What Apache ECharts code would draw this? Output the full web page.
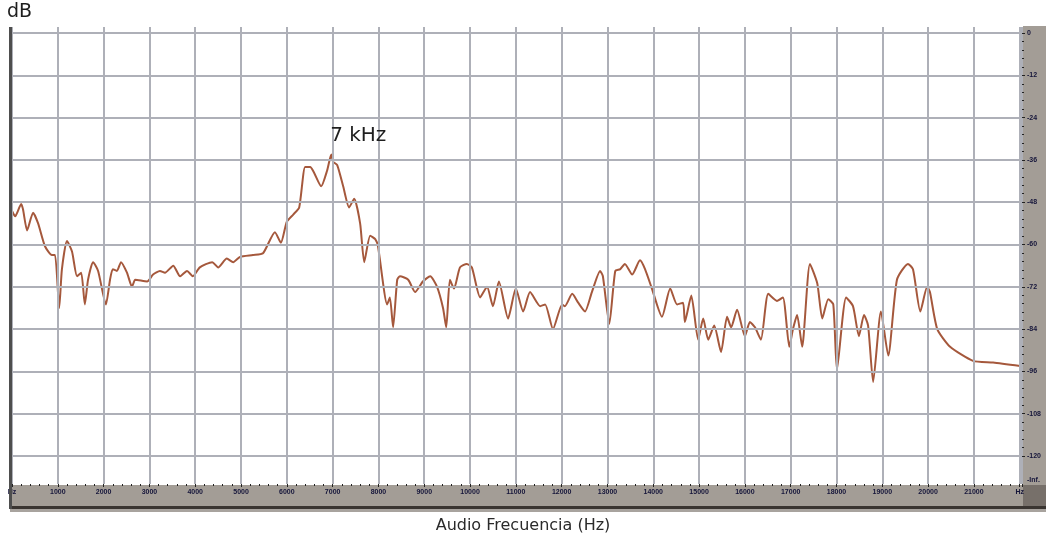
<!DOCTYPE html>
<html>
<head>
<meta charset="utf-8">
<script src="https://cdn.jsdelivr.net/npm/echarts@6/dist/echarts.min.js"></script>
<style>
html,body{margin:0;padding:0;background:#ffffff;}
#chart{width:1046px;height:548px;}
</style>
</head>
<body>
<div id="chart"></div>
<script>
const freqHz = [0,70,200,240,330,460,570,720,870,940,1030,1090,1200,1310,1420,1510,1590,1660,1770,1880,
2050,2140,2200,2290,2380,2510,2620,2690,2950,3080,3230,3340,3520,3670,3820,3950,4100,4370,4500,4690,
4830,4980,5260,5480,5740,5870,6000,6140,6270,6400,6510,6590,6750,6880,6970,7010,7100,7230,7360,7470,
7600,7690,7820,7930,7990,8190,8250,8320,8410,8470,8650,8800,8970,9130,9280,9410,9480,9560,9650,9780,
9930,10040,10220,10370,10500,10630,10830,11000,11160,11310,11530,11640,11810,12010,12070,12230,12360,12510,12660,12840,
12900,13040,13170,13280,13380,13540,13710,13820,13970,14190,14370,14520,14650,14690,14830,14980,15090,15200,15330,15480,
15610,15700,15830,16000,16110,16220,16350,16510,16700,16830,16970,17050,17140,17250,17420,17580,17690,17820,17930,18010,
18210,18360,18490,18600,18690,18800,18970,19130,19320,19560,19670,19830,19980,20040,20200,20480,20980,21420,22010];
const levelDb = [-50.5,-52,-48.5,-50,-56,-51,-54,-60.5,-63,-63,-78,-67,-59,-62,-69,-68,-77,-70,-65,-67.5,
-77,-70,-67,-67.5,-65,-68,-72,-70,-70.5,-68.5,-67.5,-68,-66,-69,-67.5,-69,-66.5,-65,-66.5,-64,
-65,-63.5,-63,-62.5,-56.5,-59.5,-53.5,-51.5,-49.5,-38,-38,-39.5,-43.5,-39,-34.5,-36.5,-37.5,-43.5,-49.5,-47,
-54,-65,-57.5,-58.5,-60.5,-77,-75,-83.5,-70,-69,-70,-73.5,-70.5,-69,-72,-78,-83.5,-70,-72.5,-66.5,
-65.5,-66.5,-75,-72,-77.5,-70.5,-81,-72.5,-79,-73.5,-77.5,-77,-84,-77,-77.5,-74,-76.5,-79,-73.5,-67.5,
-69,-82.5,-67.5,-67,-65.5,-68.5,-64.5,-67,-72.5,-80.5,-72.5,-77,-76.5,-82,-74.5,-87,-81,-87,-83,-90.5,
-80.5,-83.5,-78.5,-86,-82,-83.5,-87,-74,-76,-75,-89,-84,-80,-89,-65.5,-71,-81,-75.5,-77,-95.5,
-75,-77.5,-86,-80,-83,-99,-79,-91.5,-70,-65.5,-67,-79,-72,-73.5,-84,-89,-93,-93.5,-94.5];
const xTickLabels = ['Hz','1000','2000','3000','4000','5000','6000','7000','8000','9000','10000',
'11000','12000','13000','14000','15000','16000','17000','18000','19000','20000','21000','Hz'];
const yTickLabels = ['0','-12','-24','-36','-48','-60','-72','-84','-96','-108','-120'];
const yBottomLabel = '-Inf.';
const yUnit = 'dB';
const xTitle = 'Audio Frecuencia (Hz)';
const peakLabel = '7 kHz';

const seriesData = freqHz.map((f, i) => [f, levelDb[i]]);
let peakIdx = 0;
levelDb.forEach((v, i) => { if (v > levelDb[peakIdx]) peakIdx = i; });

const GRID_COLOR = '#aeb0b8';
const TICK_FONT = {fontFamily: 'Liberation Sans', fontSize: 7, fontWeight: 'bold', color: '#15153a'};
const HIDDEN = {axisLine: {show: false, onZero: false}, axisTick: {show: false}, minorTick: {show: false},
  axisLabel: {show: false}, splitLine: {show: false}, minorSplitLine: {show: false}};

const chart = echarts.init(document.getElementById('chart'), null, {renderer: 'canvas'});
chart.setOption({
  animation: false,
  backgroundColor: '#ffffff',
  graphic: [
    {type: 'rect', z: 1, shape: {x: 10, y: 485, width: 1013, height: 21}, style: {fill: '#a39d96'}},
    {type: 'rect', z: 1, shape: {x: 1023, y: 26, width: 23, height: 459}, style: {fill: '#a39d96'}},
    {type: 'rect', z: 1, shape: {x: 1023, y: 485, width: 23, height: 21}, style: {fill: '#77706a'}},
    {type: 'rect', z: 1, shape: {x: 10, y: 506, width: 1036, height: 3}, style: {fill: '#3a3531'}},
    {type: 'rect', z: 1, shape: {x: 10, y: 509, width: 1036, height: 3}, style: {fill: '#a8a39e'}},
    {type: 'rect', z: 10, shape: {x: 9, y: 27, width: 3, height: 482}, style: {fill: '#4e4e4e'}},
    {type: 'text', z: 3, left: 7, top: 3, style: {text: yUnit, font: '19px "DejaVu Sans"', fill: '#1e1e1e'}},
    {type: 'text', z: 3, left: 'center', top: 518, style: {text: xTitle, font: '16px "DejaVu Sans"', fill: '#2a2a2a'}}
  ],
  grid: [
    {left: 12, right: 24, top: 27, bottom: 64, containLabel: false},
    {left: 12, right: 24, top: 33, bottom: 92, containLabel: false}
  ],
  xAxis: [
    {
      gridIndex: 0, type: 'value', min: 0, max: 22050, interval: 1000, z: 5, position: 'bottom',
      axisLine: {show: false, onZero: false},
      axisTick: {show: true, length: 3, lineStyle: {color: '#222', width: 1}},
      minorTick: {show: true, splitNumber: 5, length: 2, lineStyle: {color: '#222', width: 1}},
      axisLabel: Object.assign({margin: 5, formatter: v => (v % 1000 === 0 && xTickLabels[v / 1000] !== undefined) ? xTickLabels[v / 1000] : ''}, TICK_FONT),
      splitLine: {show: true, lineStyle: {color: GRID_COLOR, width: 2}}
    },
    Object.assign({gridIndex: 1, type: 'value', min: 0, max: 22050}, HIDDEN)
  ],
  yAxis: [
    Object.assign({gridIndex: 0, type: 'value', min: 0, max: 1, position: 'left'}, HIDDEN),
    {
      gridIndex: 1, type: 'value', min: -120, max: 0, interval: 12, position: 'right', z: 5,
      axisLine: {show: false, onZero: false},
      axisTick: {show: true, length: 3, lineStyle: {color: '#222'}},
      minorTick: {show: true, splitNumber: 5, length: 2, lineStyle: {color: '#222'}},
      axisLabel: Object.assign({margin: 5, formatter: v => yTickLabels[Math.round(-v / 12)]}, TICK_FONT),
      splitLine: {show: true, lineStyle: {color: GRID_COLOR, width: 2}}
    },
    {
      gridIndex: 0, type: 'value', min: 0, max: 1, interval: 1, position: 'right', z: 5,
      axisLine: {show: false, onZero: false}, axisTick: {show: false}, minorTick: {show: false}, splitLine: {show: false},
      axisLabel: Object.assign({margin: 5, verticalAlign: 'bottom', formatter: v => v === 0 ? yBottomLabel : ''}, TICK_FONT)
    }
  ],
  series: [{
    type: 'line',
    xAxisIndex: 1,
    yAxisIndex: 1,
    data: seriesData,
    showSymbol: false,
    smooth: 0.2,
    z: 4,
    lineStyle: {color: '#a5583c', width: 2},
    markPoint: {
      symbol: 'circle', symbolSize: 1,
      itemStyle: {color: 'rgba(0,0,0,0)'},
      data: [{coord: seriesData[peakIdx]}],
      label: {
        show: true, position: 'top', offset: [27, -3], formatter: peakLabel,
        fontFamily: 'DejaVu Sans', fontSize: 20, color: '#1e1e1e'
      }
    }
  }]
});
</script>
</body>
</html>
